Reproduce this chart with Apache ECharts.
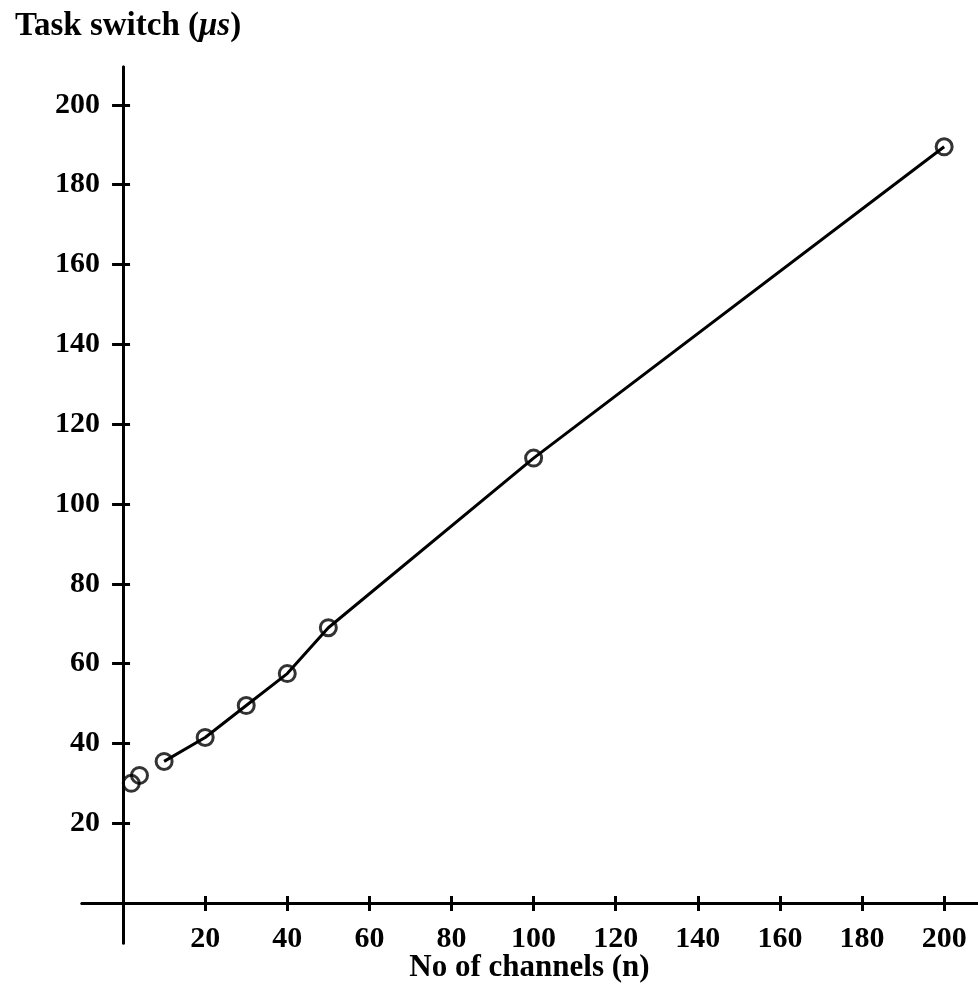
<!DOCTYPE html>
<html>
<head>
<meta charset="utf-8">
<script src="https://cdn.jsdelivr.net/npm/echarts@6/dist/echarts.min.js"></script>
<style>
  html, body { margin: 0; padding: 0; background: #fff; }
  #chart { width: 978px; height: 985px; }
</style>
</head>
<body>
<div id="chart"></div>
<script>
// measured task switch time against number of channels
const channels = [2, 4, 10, 20, 30, 40, 50, 100, 200]
const switchTime = [30, 32, 35.5, 41.5, 49.5, 57.5, 69, 111.5, 189.5]
const xTicks = [20, 40, 60, 80, 100, 120, 140, 160, 180, 200]
const yTicks = [20, 40, 60, 80, 100, 120, 140, 160, 180, 200]

let points = channels.map((c, i) => [c, switchTime[i]])
// the curve is only drawn from n = 10 on
let curve = points.slice(2)

let font = 'Liberation Serif'
let ink = '#000'

let ch = echarts.init(document.getElementById('chart'))

let baseX = {
  type: 'value',
  min: -10,
  max: 208,
  splitLine: { show: false },
  axisLine: { show: true, onZero: true, lineStyle: { color: ink, width: 3 } }
}
let baseY = {
  type: 'value',
  min: -10,
  max: 209.5,
  splitLine: { show: false },
  axisLine: { show: true, onZero: true, lineStyle: { color: ink, width: 3 } }
}

let option = {
  animation: false,
  backgroundColor: '#fff',
  title: {
    text: '{b|Task switch (}{i|μs}{b|)}',
    left: 10,
    top: 5,
    textStyle: {
      rich: {
        b: { fontFamily: font, fontWeight: 'bold', fontSize: 33, color: ink },
        i: { fontFamily: font, fontWeight: 'bold', fontStyle: 'italic', fontSize: 33, color: ink }
      }
    }
  },
  grid: { left: 82, right: 1, top: 67, bottom: 42, outerBoundsMode: 'none', containLabel: false },
  xAxis: [
    Object.assign({}, baseX, {
      position: 'bottom',
      name: 'No of channels (n)',
      nameLocation: 'middle',
      nameGap: 9,
      nameMoveOverlap: false,
      nameTextStyle: { fontFamily: font, fontWeight: 'bold', fontSize: 31, color: ink },
      axisTick: { show: true, length: 8, customValues: xTicks, lineStyle: { color: ink, width: 3 } },
      axisLabel: {
        customValues: xTicks,
        margin: -19,
        fontFamily: font,
        fontWeight: 'bold',
        fontSize: 30,
        color: ink
      }
    }),
    Object.assign({}, baseX, {
      position: 'top',
      axisTick: { show: true, length: 7, customValues: xTicks, lineStyle: { color: ink, width: 3 } },
      axisLabel: { show: false }
    })
  ],
  yAxis: [
    Object.assign({}, baseY, {
      position: 'left',
      axisTick: { show: true, length: 11, customValues: yTicks, lineStyle: { color: ink, width: 3 } },
      axisLabel: {
        customValues: yTicks,
        margin: -18,
        fontFamily: font,
        fontWeight: 'bold',
        fontSize: 30,
        color: ink
      }
    }),
    Object.assign({}, baseY, {
      position: 'right',
      axisTick: { show: true, length: 7, customValues: yTicks, lineStyle: { color: ink, width: 3 } },
      axisLabel: { show: false }
    })
  ],
  series: [
    {
      type: 'line',
      data: curve,
      symbol: 'none',
      lineStyle: { color: ink, width: 3 },
      z: 2
    },
    {
      type: 'scatter',
      data: points,
      symbol: 'circle',
      symbolSize: 16,
      itemStyle: { color: 'rgba(0,0,0,0)', borderColor: ink, borderWidth: 3 },
      z: 3
    }
  ]
}
ch.setOption(option)
</script>
</body>
</html>
